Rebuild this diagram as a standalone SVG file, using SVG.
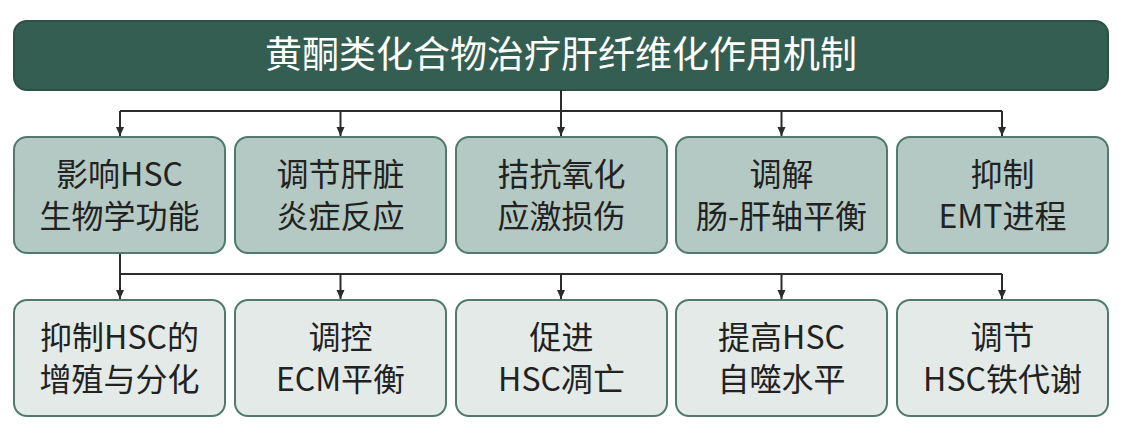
<svg xmlns="http://www.w3.org/2000/svg" width="1123" height="438" viewBox="0 0 1123 438">
<defs>
<marker id="arr" markerWidth="10" markerHeight="10" refX="9" refY="5" orient="auto" markerUnits="userSpaceOnUse" viewBox="0 0 10 10">
<path d="M0,1 L9,5 L0,9 Z" fill="#2b2b2b"/>
</marker>
<style>
text{font-family:"Noto Sans CJK SC","Noto Sans",sans-serif;text-anchor:middle;fill:#222}
.t1 rect{fill:#b4c9c3;stroke:#4f7a6c;stroke-width:2}
.t2 rect{fill:#e3eae7;stroke:#4f7a6c;stroke-width:2}
.lbl{font-size:32px}
.conn path{fill:none;stroke:#2b2b2b;stroke-width:2}
</style>
</defs>
<rect width="1123" height="438" fill="#ffffff"/>
<g id="title">
<rect x="14" y="21" width="1094" height="69" rx="13" fill="#355e52" stroke="#2c5045" stroke-width="2"/>
<text x="561" y="68" font-size="37" style="fill:#ffffff">黄酮类化合物治疗肝纤维化作用机制</text>
</g>
<g class="conn" id="connectors">
<path d="M561,90 V111"/>
<path d="M120,111 H1002"/>
<path d="M120,111 V136" marker-end="url(#arr)"/>
<path d="M340.5,111 V136" marker-end="url(#arr)"/>
<path d="M561,111 V136" marker-end="url(#arr)"/>
<path d="M781.5,111 V136" marker-end="url(#arr)"/>
<path d="M1002,111 V136" marker-end="url(#arr)"/>
<path d="M120,253 V274"/>
<path d="M120,274 H1002"/>
<path d="M120,274 V299" marker-end="url(#arr)"/>
<path d="M340.5,274 V299" marker-end="url(#arr)"/>
<path d="M561,274 V299" marker-end="url(#arr)"/>
<path d="M781.5,274 V299" marker-end="url(#arr)"/>
<path d="M1002,274 V299" marker-end="url(#arr)"/>
</g>
<g id="n1" class="t1"><rect x="14" y="137" width="211" height="116" rx="13"/><text class="lbl" x="119.5" y="186">影响HSC</text><text class="lbl" x="119.5" y="228">生物学功能</text></g>
<g id="n2" class="t1"><rect x="235" y="137" width="211" height="116" rx="13"/><text class="lbl" x="340.5" y="186">调节肝脏</text><text class="lbl" x="340.5" y="228">炎症反应</text></g>
<g id="n3" class="t1"><rect x="456" y="137" width="211" height="116" rx="13"/><text class="lbl" x="561.5" y="186">拮抗氧化</text><text class="lbl" x="561.5" y="228">应激损伤</text></g>
<g id="n4" class="t1"><rect x="676" y="137" width="211" height="116" rx="13"/><text class="lbl" x="781.5" y="186">调解</text><text class="lbl" x="781.5" y="228">肠-肝轴平衡</text></g>
<g id="n5" class="t1"><rect x="897" y="137" width="211" height="116" rx="13"/><text class="lbl" x="1002.5" y="186">抑制</text><text class="lbl" x="1002.5" y="228">EMT进程</text></g>
<g id="m1" class="t2"><rect x="14" y="300" width="211" height="116" rx="13"/><text class="lbl" x="119.5" y="349">抑制HSC的</text><text class="lbl" x="119.5" y="391">增殖与分化</text></g>
<g id="m2" class="t2"><rect x="235" y="300" width="211" height="116" rx="13"/><text class="lbl" x="340.5" y="349">调控</text><text class="lbl" x="340.5" y="391">ECM平衡</text></g>
<g id="m3" class="t2"><rect x="456" y="300" width="211" height="116" rx="13"/><text class="lbl" x="561.5" y="349">促进</text><text class="lbl" x="561.5" y="391">HSC凋亡</text></g>
<g id="m4" class="t2"><rect x="676" y="300" width="211" height="116" rx="13"/><text class="lbl" x="781.5" y="349">提高HSC</text><text class="lbl" x="781.5" y="391">自噬水平</text></g>
<g id="m5" class="t2"><rect x="897" y="300" width="211" height="116" rx="13"/><text class="lbl" x="1002.5" y="349">调节</text><text class="lbl" x="1002.5" y="391">HSC铁代谢</text></g>
</svg>
